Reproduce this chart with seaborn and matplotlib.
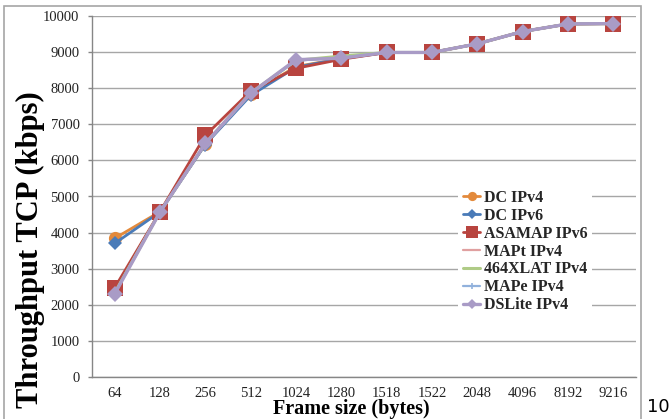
import matplotlib
matplotlib.use("Agg")
import matplotlib.pyplot as plt
import seaborn as sns
import pandas as pd
from matplotlib.patches import Rectangle

frame_sizes = ["64", "128", "256", "512", "1024", "1280", "1518", "1522", "2048", "4096", "8192", "9216"]
dc_ipv4 = [3840, 4580, 6450, 7850, 8600, 8820, 8990, 8990, 9230, 9570, 9780, 9790]
dc_ipv6 = [3700, 4570, 6440, 7800, 8580, 8820, 8990, 8990, 9230, 9570, 9780, 9790]
asamap_ipv6 = [2470, 4580, 6690, 7920, 8550, 8800, 8990, 8990, 9230, 9570, 9780, 9790]
mapt_ipv4 = [2330, 4570, 6470, 7860, 8760, 8860, 8990, 8990, 9230, 9570, 9780, 9790]
xlat_ipv4 = [2330, 4570, 6470, 7870, 8770, 8890, 8990, 8990, 9230, 9570, 9780, 9790]
mape_ipv4 = [2320, 4570, 6460, 7850, 8760, 8850, 8990, 8990, 9230, 9570, 9780, 9790]
dslite_ipv4 = [2300, 4570, 6470, 7860, 8790, 8830, 8990, 8990, 9230, 9570, 9780, 9790]

series_names = ["DC IPv4", "DC IPv6", "ASAMAP IPv6", "MAPt IPv4", "464XLAT IPv4", "MAPe IPv4", "DSLite IPv4"]
series_values = [dc_ipv4, dc_ipv6, asamap_ipv6, mapt_ipv4, xlat_ipv4, mape_ipv4, dslite_ipv4]
colors = ["#E38A3C", "#4A7BB8", "#B8443F", "#E0A0A0", "#AFCB86", "#91B1DC", "#A99BC6"]
markers = ["o", "D", "s", "", "", "+", "D"]
msizes = [9.5, 7.4, 11.8, 0, 0, 6, 7.8]
lwidths = [2.0, 2.0, 2.0, 1.6, 2.2, 1.6, 2.4]

sns.set_theme(style="white")
plt.rcParams["font.family"] = ["Liberation Serif", "DejaVu Serif"]

fig = plt.figure(figsize=(6.70, 4.19), dpi=100)
ax = fig.add_axes([92/670, 1-377/419, (636-92)/670, (377-16)/419])

for name, vals, c, m, ms, lw in zip(series_names, series_values, colors, markers, msizes, lwidths):
    df = pd.DataFrame({"Frame size": frame_sizes, "Throughput": vals})
    sns.lineplot(data=df, x="Frame size", y="Throughput", ax=ax, color=c, marker=m if m else None,
                 markersize=ms, linewidth=lw, label=name, sort=False,
                 markeredgecolor=c, markeredgewidth=1.2 if m == "+" else 0)

ax.set_ylim(0, 10000)
ax.set_xlim(-0.5, len(frame_sizes) - 0.5)
ax.set_yticks(range(0, 10001, 1000))
ax.yaxis.grid(True, color="#A6A6A6", linewidth=1.0)
ax.set_axisbelow(True)
for s in ["top", "right"]:
    ax.spines[s].set_visible(False)
ax.spines["left"].set_color("#868686")
ax.spines["bottom"].set_color("#868686")
ax.spines["left"].set_linewidth(1.0)
ax.spines["bottom"].set_linewidth(1.0)
ax.tick_params(axis="y", left=True, length=3, width=1, color="#868686", pad=6, labelsize=10.5, labelcolor="#222222")
ax.tick_params(axis="x", bottom=False, length=0, pad=7, labelsize=10.5, labelcolor="#222222")
ax.set_xlabel("")
ax.set_ylabel("")

fig.text(30/670, 1-250/419, "Throughput TCP (kbps)", rotation=90, ha="center", va="center",
         fontsize=22, fontweight="bold", color="black")
fig.text(351/670, 1-409/419, "Frame size (bytes)", ha="center", va="center",
         fontsize=14.5, fontweight="bold", color="black")
fig.text(647/670, 1-407/419, "10", ha="left", va="center", fontsize=13, family="DejaVu Sans", color="black")

leg = ax.legend(loc="center left", bbox_to_anchor=(458/670, 1-251.5/419), bbox_transform=fig.transFigure,
                frameon=True, fontsize=11.5, handlelength=1.1, handletextpad=0.2, labelspacing=0.12,
                borderpad=0.3, borderaxespad=0)
leg.get_frame().set_facecolor("white")
leg.get_frame().set_edgecolor("none")
leg.get_frame().set_alpha(1)
for t in leg.get_texts():
    t.set_fontweight("bold")
for h in leg.legend_handles:
    try:
        h.set_markersize(h.get_markersize() * 0.7)
    except Exception:
        pass

fig.patches.append(Rectangle((4/670, -0.02), (641-4)/670, 1-6/419+0.02, transform=fig.transFigure,
                             fill=False, edgecolor="#A6A6A6", linewidth=1.2))

fig.savefig("out.png", dpi=100)
